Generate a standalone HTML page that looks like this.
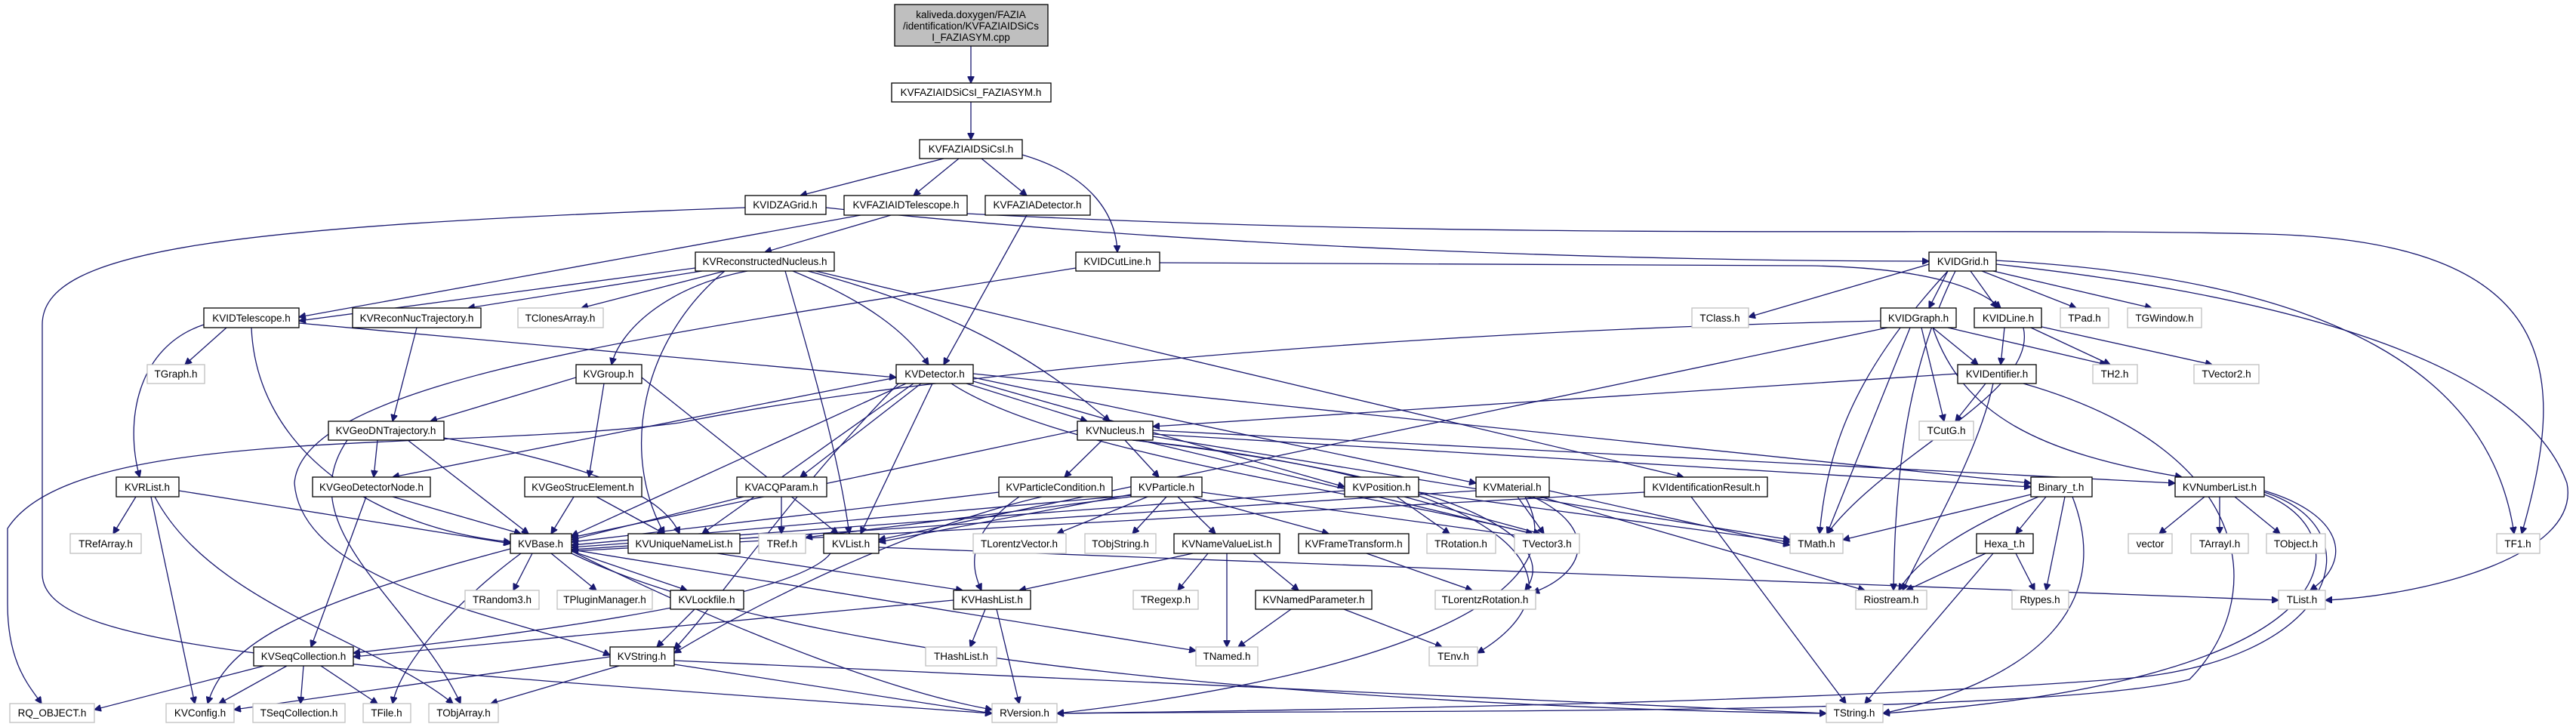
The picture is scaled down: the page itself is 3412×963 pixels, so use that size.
<!DOCTYPE html>
<html><head><meta charset="utf-8"><style>
html,body{margin:0;padding:0;background:#fff;}
svg{display:block;}
text{font-family:"Liberation Sans",sans-serif;font-size:13.5px;fill:#000;text-anchor:middle;}
.n{fill:#fff;stroke:#000;stroke-width:1.3;}
.g{fill:#fff;stroke:#bfbfbf;stroke-width:1.3;}
path{fill:none;stroke:#191970;stroke-width:1.3;marker-end:url(#ah);}
</style></head><body>
<svg width="3412" height="963" viewBox="0 0 3412 963" xmlns="http://www.w3.org/2000/svg">
<defs><marker id="ah" viewBox="0 0 10 10" refX="10" refY="5" markerWidth="9" markerHeight="9" markerUnits="userSpaceOnUse" orient="auto"><path d="M0,0 L10,5 L0,10 z" style="fill:#191970;stroke:#191970;marker-end:none"/></marker></defs>
<g id="edges">
<path d="M1286,61 L1286,110"/>
<path d="M1286,135 L1286,185"/>
<path d="M1250,210 L1060,259"/>
<path d="M1270,210 L1210,259"/>
<path d="M1300,210 L1360,259"/>
<path d="M1354,205 C1440,230 1478,280 1480,334"/>
<path d="M1094,275 C1600,330 2200,346 2555,346"/>
<path d="M987,275 C300,300 56,330 56,430 L56,760 C56,860 400,880 1314,945"/>
<path d="M1180,285 L1013,334"/>
<path d="M1140,285 L396,420"/>
<path d="M1281,283 C2000,320 2600,300 3000,310 C3400,320 3400,500 3340,707"/>
<path d="M1360,285 L1250,483"/>
<path d="M1536,348 L2400,352 C2550,355 2620,380 2650,408"/>
<path d="M1425,355 C900,440 400,500 390,640 C400,780 700,820 808,868"/>
<path d="M921,355 L396,425"/>
<path d="M930,359 L620,408"/>
<path d="M960,359 L770,408"/>
<path d="M990,359 C880,380 820,440 810,483"/>
<path d="M1050,359 C1150,400 1200,440 1230,483"/>
<path d="M1070,359 C1300,420 1400,500 1470,558"/>
<path d="M1040,359 C1080,500 1110,600 1125,707"/>
<path d="M1080,359 L2230,632"/>
<path d="M960,359 C850,450 820,600 880,707"/>
<path d="M300,434 L245,483"/>
<path d="M270,430 C180,460 165,560 185,632"/>
<path d="M333,434 C340,600 500,700 676,718"/>
<path d="M396,428 L1187,500"/>
<path d="M552,434 L520,558"/>
<path d="M2555,350 L2316,420"/>
<path d="M2580,359 L2555,408"/>
<path d="M2610,359 L2645,408"/>
<path d="M2625,359 L2750,408"/>
<path d="M2640,359 L2850,408"/>
<path d="M2580,359 C2450,500 2420,600 2410,707"/>
<path d="M2590,359 C2520,500 2510,650 2508,782"/>
<path d="M2644,345 C3100,370 3300,500 3330,707"/>
<path d="M2644,350 C3100,400 3350,500 3400,640 C3420,740 3200,790 3080,795"/>
<path d="M2491,425 C1800,440 1200,500 900,560 C600,600 100,560 10,700 L10,800 C10,880 40,910 55,932"/>
<path d="M2560,434 L2620,483"/>
<path d="M2580,434 L2790,483"/>
<path d="M2545,434 L2575,558"/>
<path d="M2560,434 C2600,550 2700,600 2890,632"/>
<path d="M2500,434 L1164,715"/>
<path d="M2530,434 L2420,707"/>
<path d="M2655,434 L2650,483"/>
<path d="M2690,434 L2795,483"/>
<path d="M2700,432 L2930,483"/>
<path d="M2680,434 C2700,520 2500,600 2420,707"/>
<path d="M2593,495 L1527,565"/>
<path d="M2630,508 L2590,558"/>
<path d="M2640,508 C2620,600 2560,700 2520,782"/>
<path d="M2680,508 C3000,600 3000,800 2900,900 C2700,950 1800,940 1400,945"/>
<path d="M763,500 L570,558"/>
<path d="M800,508 L780,632"/>
<path d="M850,500 L1110,707"/>
<path d="M1280,508 L1440,558"/>
<path d="M1187,500 L520,632"/>
<path d="M1220,508 L1060,632"/>
<path d="M1289,505 L1781,645"/>
<path d="M1289,500 L1955,640"/>
<path d="M1235,508 L1140,707"/>
<path d="M1200,508 L757,710"/>
<path d="M1210,508 L930,707"/>
<path d="M1289,495 L2690,640"/>
<path d="M1260,508 C1400,600 1800,650 2030,707"/>
<path d="M1190,508 C1050,650 950,800 893,860"/>
<path d="M500,583 L495,632"/>
<path d="M540,583 L700,707"/>
<path d="M460,583 C380,700 550,800 610,932"/>
<path d="M588,580 C800,620 880,660 900,707"/>
<path d="M1460,583 L1410,632"/>
<path d="M1490,583 L1535,632"/>
<path d="M1427,570 L757,712"/>
<path d="M1510,583 L2030,707"/>
<path d="M1527,570 L2881,640"/>
<path d="M1527,575 L2690,645"/>
<path d="M1527,578 L2371,715"/>
<path d="M1500,583 C2050,640 2100,780 1957,865"/>
<path d="M1500,583 C2000,640 2060,730 2020,782"/>
<path d="M180,658 L150,707"/>
<path d="M237,650 L676,720"/>
<path d="M200,658 L258,932"/>
<path d="M205,658 C280,800 500,850 600,932"/>
<path d="M520,658 L690,707"/>
<path d="M485,658 L412,857"/>
<path d="M760,658 L730,707"/>
<path d="M790,658 L880,707"/>
<path d="M985,658 L757,715"/>
<path d="M1035,658 L1035,707"/>
<path d="M1323,652 L757,718"/>
<path d="M1350,658 C1290,700 1280,740 1300,782"/>
<path d="M1380,658 C1200,700 1000,800 893,865"/>
<path d="M1500,656 L757,722"/>
<path d="M1520,658 L1400,707"/>
<path d="M1545,658 L1500,707"/>
<path d="M1560,658 L1610,707"/>
<path d="M1580,658 L1760,707"/>
<path d="M1498,655 L1164,718"/>
<path d="M1592,652 L2030,712"/>
<path d="M1498,658 L1067,712"/>
<path d="M1850,658 L1920,707"/>
<path d="M1860,658 L2040,707"/>
<path d="M1781,650 L757,725"/>
<path d="M1879,652 L2371,718"/>
<path d="M1955,650 L757,728"/>
<path d="M2010,658 L2045,707"/>
<path d="M2052,650 L2371,722"/>
<path d="M2040,658 L2470,782"/>
<path d="M2030,658 C2120,700 2100,760 2030,785"/>
<path d="M2020,658 C2100,800 1800,900 1400,945"/>
<path d="M2178,652 L757,730"/>
<path d="M2240,658 L2445,932"/>
<path d="M2710,658 L2670,707"/>
<path d="M2735,658 L2710,782"/>
<path d="M2700,658 C2600,700 2540,740 2515,782"/>
<path d="M2745,658 C2800,800 2700,900 2494,945"/>
<path d="M2690,655 L2441,715"/>
<path d="M2920,658 L2860,707"/>
<path d="M2940,658 L2940,707"/>
<path d="M2960,658 L3020,707"/>
<path d="M2999,650 C3100,680 3120,740 3060,782"/>
<path d="M2999,655 C3120,700 3150,900 2494,945"/>
<path d="M2999,652 C3150,700 3100,880 2800,900 C2400,930 1800,940 1400,945"/>
<path d="M2630,733 L2525,782"/>
<path d="M2670,733 L2695,782"/>
<path d="M2640,733 L2470,932"/>
<path d="M705,733 L680,782"/>
<path d="M730,733 L790,782"/>
<path d="M757,730 L910,782"/>
<path d="M676,727 C400,800 300,850 275,932"/>
<path d="M690,733 C600,800 530,880 520,932"/>
<path d="M757,730 C1000,850 1200,920 1314,940"/>
<path d="M757,728 L1584,862"/>
<path d="M757,733 C1100,900 2000,940 2419,945"/>
<path d="M950,733 L1275,782"/>
<path d="M1100,733 C1050,800 600,850 468,865"/>
<path d="M1164,725 L3018,795"/>
<path d="M1580,733 L1350,782"/>
<path d="M1600,733 L1560,782"/>
<path d="M1625,733 L1625,857"/>
<path d="M1660,733 L1720,782"/>
<path d="M1810,733 L1950,782"/>
<path d="M920,807 L870,857"/>
<path d="M1263,795 L468,870"/>
<path d="M1305,807 L1285,857"/>
<path d="M1320,807 L1350,932"/>
<path d="M1710,807 L1640,857"/>
<path d="M1780,807 L1910,857"/>
<path d="M350,882 L125,940"/>
<path d="M380,882 L290,932"/>
<path d="M402,882 L398,932"/>
<path d="M425,882 L500,932"/>
<path d="M808,870 L310,940"/>
<path d="M820,882 L650,932"/>
<path d="M893,875 L2419,945"/>
<path d="M893,880 L1314,945"/>
</g>
<g id="nodes">
<rect x="1185" y="6" width="203" height="55" style="fill:#bfbfbf;stroke:#000;stroke-width:1.3"/>
<text x="1286" y="24">kaliveda.doxygen/FAZIA</text>
<text x="1286" y="39">/identification/KVFAZIAIDSiCs</text>
<text x="1286" y="54">I_FAZIASYM.cpp</text>

<rect class="n" x="1181" y="110" width="211" height="25"/><text x="1286" y="127">KVFAZIAIDSiCsI_FAZIASYM.h</text>
<rect class="n" x="1218" y="185" width="136" height="25"/><text x="1286" y="202">KVFAZIAIDSiCsI.h</text>
<rect class="n" x="987" y="259" width="107" height="25"/><text x="1040" y="276">KVIDZAGrid.h</text>
<rect class="n" x="1118" y="259" width="163" height="26"/><text x="1200" y="276">KVFAZIAIDTelescope.h</text>
<rect class="n" x="1305" y="259" width="139" height="26"/><text x="1374" y="276">KVFAZIADetector.h</text>
<rect class="n" x="921" y="334" width="184" height="25"/><text x="1013" y="351">KVReconstructedNucleus.h</text>
<rect class="n" x="1425" y="334" width="111" height="25"/><text x="1480" y="351">KVIDCutLine.h</text>
<rect class="n" x="2555" y="334" width="89" height="25"/><text x="2600" y="351">KVIDGrid.h</text>

<rect class="n" x="270" y="408" width="126" height="26"/><text x="333" y="426">KVIDTelescope.h</text>
<rect class="n" x="467" y="408" width="170" height="26"/><text x="552" y="426">KVReconNucTrajectory.h</text>
<rect class="g" x="686" y="408" width="113" height="26"/><text x="742" y="426">TClonesArray.h</text>
<rect class="g" x="2241" y="408" width="75" height="26"/><text x="2278" y="426">TClass.h</text>
<rect class="n" x="2491" y="408" width="100" height="26"/><text x="2541" y="426">KVIDGraph.h</text>
<rect class="n" x="2615" y="408" width="89" height="26"/><text x="2660" y="426">KVIDLine.h</text>
<rect class="g" x="2729" y="408" width="64" height="26"/><text x="2761" y="426">TPad.h</text>
<rect class="g" x="2818" y="408" width="98" height="26"/><text x="2867" y="426">TGWindow.h</text>

<rect class="g" x="195" y="483" width="76" height="25"/><text x="233" y="500">TGraph.h</text>
<rect class="n" x="763" y="483" width="87" height="25"/><text x="806" y="500">KVGroup.h</text>
<rect class="n" x="1187" y="483" width="102" height="25"/><text x="1238" y="500">KVDetector.h</text>
<rect class="n" x="2593" y="483" width="104" height="25"/><text x="2645" y="500">KVIDentifier.h</text>
<rect class="g" x="2772" y="483" width="59" height="25"/><text x="2801" y="500">TH2.h</text>
<rect class="g" x="2906" y="483" width="86" height="25"/><text x="2949" y="500">TVector2.h</text>

<rect class="n" x="435" y="558" width="153" height="25"/><text x="511" y="575">KVGeoDNTrajectory.h</text>
<rect class="n" x="1427" y="558" width="100" height="25"/><text x="1477" y="575">KVNucleus.h</text>
<rect class="g" x="2542" y="558" width="72" height="25"/><text x="2578" y="575">TCutG.h</text>

<rect class="n" x="154" y="632" width="83" height="26"/><text x="195" y="650">KVRList.h</text>
<rect class="n" x="414" y="632" width="156" height="26"/><text x="492" y="650">KVGeoDetectorNode.h</text>
<rect class="n" x="695" y="632" width="155" height="26"/><text x="772" y="650">KVGeoStrucElement.h</text>
<rect class="n" x="976" y="632" width="119" height="26"/><text x="1035" y="650">KVACQParam.h</text>
<rect class="n" x="1323" y="632" width="150" height="26"/><text x="1398" y="650">KVParticleCondition.h</text>
<rect class="n" x="1498" y="632" width="94" height="26"/><text x="1545" y="650">KVParticle.h</text>
<rect class="n" x="1781" y="632" width="98" height="26"/><text x="1830" y="650">KVPosition.h</text>
<rect class="n" x="1955" y="632" width="97" height="26"/><text x="2003" y="650">KVMaterial.h</text>
<rect class="n" x="2178" y="632" width="163" height="26"/><text x="2260" y="650">KVIdentificationResult.h</text>
<rect class="n" x="2690" y="632" width="81" height="26"/><text x="2730" y="650">Binary_t.h</text>
<rect class="n" x="2881" y="632" width="118" height="26"/><text x="2940" y="650">KVNumberList.h</text>

<rect class="g" x="93" y="707" width="94" height="26"/><text x="140" y="725">TRefArray.h</text>
<rect class="n" x="676" y="707" width="81" height="26"/><text x="716" y="725">KVBase.h</text>
<rect class="n" x="832" y="707" width="148" height="26"/><text x="906" y="725">KVUniqueNameList.h</text>
<rect class="g" x="1005" y="707" width="62" height="26"/><text x="1036" y="725">TRef.h</text>
<rect class="n" x="1091" y="707" width="73" height="26"/><text x="1127" y="725">KVList.h</text>
<rect class="g" x="1289" y="707" width="123" height="26"/><text x="1350" y="725">TLorentzVector.h</text>
<rect class="g" x="1437" y="707" width="94" height="26"/><text x="1484" y="725">TObjString.h</text>
<rect class="n" x="1555" y="707" width="140" height="26"/><text x="1625" y="725">KVNameValueList.h</text>
<rect class="n" x="1720" y="707" width="146" height="26"/><text x="1793" y="725">KVFrameTransform.h</text>
<rect class="g" x="1890" y="707" width="91" height="26"/><text x="1935" y="725">TRotation.h</text>
<rect class="g" x="2006" y="707" width="86" height="26"/><text x="2049" y="725">TVector3.h</text>
<rect class="g" x="2371" y="707" width="70" height="26"/><text x="2406" y="725">TMath.h</text>
<rect class="n" x="2618" y="707" width="75" height="26"/><text x="2655" y="725">Hexa_t.h</text>
<rect class="g" x="2819" y="707" width="58" height="26"/><text x="2848" y="725">vector</text>
<rect class="g" x="2902" y="707" width="76" height="26"/><text x="2940" y="725">TArrayI.h</text>
<rect class="g" x="3002" y="707" width="78" height="26"/><text x="3041" y="725">TObject.h</text>
<rect class="g" x="3307" y="707" width="57" height="26"/><text x="3335" y="725">TF1.h</text>

<rect class="g" x="616" y="782" width="98" height="25"/><text x="665" y="799">TRandom3.h</text>
<rect class="g" x="738" y="782" width="126" height="25"/><text x="801" y="799">TPluginManager.h</text>
<rect class="n" x="888" y="782" width="97" height="25"/><text x="936" y="799">KVLockfile.h</text>
<rect class="n" x="1263" y="782" width="102" height="25"/><text x="1314" y="799">KVHashList.h</text>
<rect class="g" x="1501" y="782" width="86" height="25"/><text x="1544" y="799">TRegexp.h</text>
<rect class="n" x="1663" y="782" width="154" height="25"/><text x="1740" y="799">KVNamedParameter.h</text>
<rect class="g" x="1901" y="782" width="133" height="25"/><text x="1967" y="799">TLorentzRotation.h</text>
<rect class="g" x="2458" y="782" width="94" height="25"/><text x="2505" y="799">Riostream.h</text>
<rect class="g" x="2665" y="782" width="75" height="25"/><text x="2702" y="799">Rtypes.h</text>
<rect class="g" x="3018" y="782" width="62" height="25"/><text x="3049" y="799">TList.h</text>

<rect class="n" x="336" y="857" width="132" height="25"/><text x="402" y="874">KVSeqCollection.h</text>
<rect class="n" x="808" y="857" width="85" height="25"/><text x="850" y="874">KVString.h</text>
<rect class="g" x="1226" y="857" width="94" height="25"/><text x="1273" y="874">THashList.h</text>
<rect class="g" x="1584" y="857" width="82" height="25"/><text x="1625" y="874">TNamed.h</text>
<rect class="g" x="1893" y="857" width="64" height="25"/><text x="1925" y="874">TEnv.h</text>

<rect class="g" x="13" y="932" width="112" height="25"/><text x="69" y="949">RQ_OBJECT.h</text>
<rect class="g" x="220" y="932" width="90" height="25"/><text x="265" y="949">KVConfig.h</text>
<rect class="g" x="335" y="932" width="122" height="25"/><text x="396" y="949">TSeqCollection.h</text>
<rect class="g" x="481" y="932" width="63" height="25"/><text x="512" y="949">TFile.h</text>
<rect class="g" x="568" y="932" width="92" height="25"/><text x="614" y="949">TObjArray.h</text>
<rect class="g" x="1314" y="932" width="86" height="25"/><text x="1357" y="949">RVersion.h</text>
<rect class="g" x="2419" y="932" width="75" height="25"/><text x="2456" y="949">TString.h</text>
</g>
</svg>
</body></html>
